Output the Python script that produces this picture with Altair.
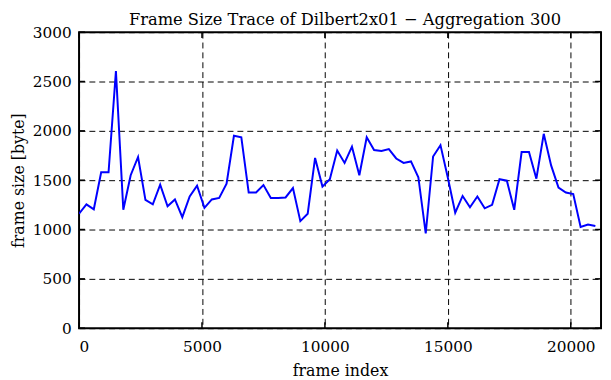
import altair as alt
import pandas as pd

frame_index = [0, 300, 600, 900, 1200, 1500, 1800, 2100, 2400, 2700,
               3000, 3300, 3600, 3900, 4200, 4500, 4800, 5100, 5400, 5700,
               6000, 6300, 6600, 6900, 7200, 7500, 7800, 8100, 8400, 8700,
               9000, 9300, 9600, 9900, 10200, 10500, 10800, 11100, 11400, 11700,
               12000, 12300, 12600, 12900, 13200, 13500, 13800, 14100, 14400, 14700,
               15000, 15300, 15600, 15900, 16200, 16500, 16800, 17100, 17400, 17700,
               18000, 18300, 18600, 18900, 19200, 19500, 19800, 20100, 20400, 20700,
               21000]
frame_size = [1160, 1255, 1205, 1580, 1580, 2605, 1200, 1550, 1735, 1300,
              1255, 1455, 1235, 1305, 1125, 1335, 1445, 1220, 1305, 1320,
              1465, 1950, 1935, 1375, 1375, 1450, 1320, 1320, 1325, 1420,
              1085, 1160, 1725, 1435, 1510, 1800, 1675, 1840, 1550, 1935,
              1805, 1795, 1815, 1720, 1675, 1690, 1530, 960, 1740, 1855,
              1525, 1170, 1340, 1225, 1335, 1215, 1250, 1510, 1495, 1200,
              1785, 1785, 1515, 1970, 1650, 1425, 1375, 1360, 1025, 1050,
              1035]
x_ticks = [0, 5000, 10000, 15000, 20000]
y_ticks = [0, 500, 1000, 1500, 2000, 2500, 3000]

W, H = 529, 300
FONT = "DejaVu Serif"
FS = 15.5

df = pd.DataFrame({"frame": frame_index, "size": frame_size})
xt = pd.DataFrame({"frame": x_ticks})
yt = pd.DataFrame({"size": y_ticks})

xscale = alt.Scale(domain=[0, 21230], nice=False, zero=False)
yscale = alt.Scale(domain=[0, 3000], nice=False)

line = alt.Chart(df).mark_line(color="#0000ff", strokeWidth=2, clip=True).encode(
    x=alt.X("frame:Q", scale=xscale,
            axis=alt.Axis(values=x_ticks, format="d", title="frame index", grid=True,
                          gridDash=[6, 4], gridColor="black", gridWidth=1, gridOpacity=1,
                          domain=False, ticks=False, labelPadding=12,
                          labelFont=FONT, labelFontSize=FS, labelColor="black",
                          titleFont=FONT, titleFontSize=16, titleFontWeight="normal",
                          titleColor="black", titlePadding=7)),
    y=alt.Y("size:Q", scale=yscale,
            axis=alt.Axis(values=y_ticks, format="d", title="frame size [byte]", grid=True,
                          gridDash=[6, 4], gridColor="black", gridWidth=1, gridOpacity=1,
                          domain=False, ticks=False, labelPadding=8,
                          labelFont=FONT, labelFontSize=FS, labelColor="black",
                          titleFont=FONT, titleFontSize=16, titleFontWeight="normal",
                          titleColor="black", titlePadding=6)),
)

tick_style = dict(color="black", strokeWidth=1.5)
xt_bottom = alt.Chart(xt).mark_rule(**tick_style).encode(
    x=alt.X("frame:Q", scale=xscale),
    y=alt.value(H), y2=alt.value(H - 6))
xt_top = alt.Chart(xt).mark_rule(**tick_style).encode(
    x=alt.X("frame:Q", scale=xscale),
    y=alt.value(0), y2=alt.value(6))
yt_left = alt.Chart(yt).mark_rule(**tick_style).encode(
    y=alt.Y("size:Q", scale=yscale),
    x=alt.value(0), x2=alt.value(6))
yt_right = alt.Chart(yt).mark_rule(**tick_style).encode(
    y=alt.Y("size:Q", scale=yscale),
    x=alt.value(W - 6), x2=alt.value(W))

chart = alt.layer(line, xt_bottom, xt_top, yt_left, yt_right).properties(
    width=W, height=H,
    background="white",
    title=alt.TitleParams("Frame Size Trace of Dilbert2x01 \u2212 Aggregation 300",
                          font=FONT, fontSize=16.5, fontWeight="normal",
                          color="black", anchor="middle", offset=3, dx=5, dy=6),
    autosize=alt.AutoSizeParams(type="none"),
    padding={"left": 72, "top": 22, "right": 2, "bottom": 50},
).configure_view(stroke="black", strokeWidth=2)

chart.save("out.html", embed_options={"renderer": "svg", "actions": False})
